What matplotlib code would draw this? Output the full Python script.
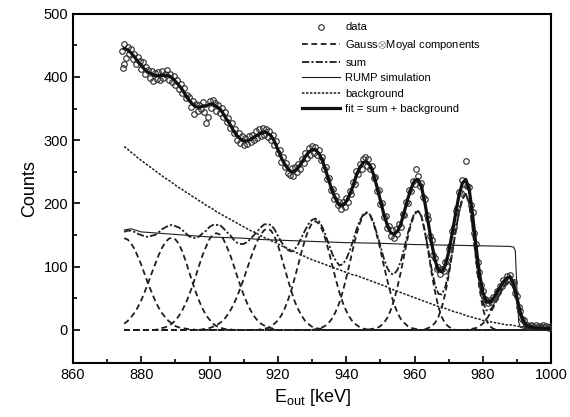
import numpy as np
import matplotlib.pyplot as plt

plt.rcParams['font.family'] = ['Liberation Sans', 'DejaVu Sans']
plt.rcParams['mathtext.fontset'] = 'custom'
plt.rcParams['mathtext.rm'] = 'Liberation Sans'
plt.rcParams['mathtext.it'] = 'Liberation Sans:italic'

# fitted curves are given on a 1 keV grid
energy = np.arange(875, 1001)

# background, 875 ... 1000 keV
background = [290, 286, 281, 277, 272, 268, 264, 260, 256, 252,
              248, 244, 240, 237, 233, 229, 225, 222, 218, 215,
              211, 208, 204, 201, 197, 194, 191, 187, 184, 181,
              178, 175, 172, 169, 166, 163, 160, 157, 155, 152,
              149, 146, 144, 141, 139, 136, 133, 131, 128, 126,
              123, 121, 118, 116, 113, 111, 109, 107, 105, 103,
              101, 99, 97, 95, 93, 91, 89, 87, 86, 84,
              82, 80, 78, 76, 74, 72, 70, 68, 65, 63,
              61, 59, 57, 55, 53, 51, 49, 47, 45, 43,
              41, 39, 37, 36, 34, 32, 30, 28, 27, 25,
              23, 21, 20, 18, 17, 15, 14, 13, 12, 11,
              10, 9, 8, 8, 7, 6, 5, 5, 4, 4,
              3, 3, 3, 2, 2, 2]

# Gauss (x) Moyal components: first energy of each and its values (zero elsewhere)
comp_start = [875, 875, 885, 898, 915, 931, 947, 963, 976]
comp_875 = [145, 143, 137, 128, 116, 103, 88, 73, 60, 47, 36, 27, 20, 14, 10, 6, 4, 3, 2, 1, 1]
comp_889 = [10, 14, 20, 27, 36, 47, 60, 74, 89, 103, 117, 129, 138, 144, 146, 143, 136, 124,
            109, 92, 75, 59, 45, 33, 23, 16, 10, 6, 4, 2, 1, 1]
comp_902 = [1, 3, 4, 7, 10, 15, 22, 31, 42, 55, 70, 86, 103, 119, 132, 144, 151, 153, 151, 144,
            132, 119, 103, 86, 70, 55, 42, 31, 22, 15, 10, 7, 4, 3, 1]
comp_917 = [1, 2, 3, 5, 7, 11, 15, 22, 30, 40, 52, 66, 81, 97, 113, 128, 141, 151, 158, 160,
            157, 148, 134, 116, 97, 78, 60, 44, 32, 22, 14, 9, 5, 3, 2, 1]
comp_931 = [1, 2, 3, 6, 10, 15, 23, 34, 48, 64, 84, 104, 125, 144, 159, 169, 172, 168, 158, 142,
            122, 100, 79, 59, 43, 30, 20, 12, 8, 4, 2, 1]
comp_946 = [1, 2, 4, 7, 12, 19, 30, 43, 61, 82, 105, 129, 151, 169, 181, 185, 181, 168, 149, 127,
            102, 79, 58, 41, 27, 17, 11, 6, 3, 2, 1]
comp_961 = [1, 2, 3, 6, 11, 19, 31, 47, 68, 92, 119, 146, 168, 183, 188, 180, 156, 124, 90, 60,
            36, 20, 10, 5, 2]
comp_975 = [1, 3, 6, 11, 21, 36, 58, 86, 120, 155, 186, 207, 215, 200, 160, 111, 66, 34, 15, 6, 2, 1]
comp_988 = [1, 2, 3, 6, 10, 16, 25, 35, 46, 57, 67, 74, 76, 66, 44, 22, 8, 2, 1]
comp_values = [comp_875, comp_889, comp_902, comp_917, comp_931, comp_946, comp_961, comp_975, comp_988]

# RUMP simulation
rump_e = [875, 877, 880, 885, 890, 895, 900, 905, 910, 915, 920, 930, 940, 950, 960, 970, 980,
          988, 989, 989.5, 990, 990.5, 991, 993, 1000]
rump_counts = [158, 160, 155, 153, 151, 149, 147, 146, 145, 143, 142, 140, 138, 137, 135, 134, 133,
               132, 131, 125, 60, 12, 4, 1, 0]

# measured spectrum, 0.5 keV channels starting at 874.5 keV
data_counts = [441, 452, 430, 447, 436, 444, 428, 437, 421, 431, 426, 412, 423, 405, 416, 411,
               398, 409, 394, 406, 397, 408, 396, 410, 399, 404, 411, 395, 405, 392, 401, 387,
               395, 381, 389, 374, 382, 366, 372, 369, 353, 362, 341, 358, 347, 356, 349, 360,
               345, 328, 336, 362, 351, 364, 359, 347, 356, 343, 351, 336, 344, 329, 335, 319,
               327, 311, 318, 301, 311, 296, 306, 293, 304, 294, 307, 297, 309, 300, 314, 303,
               317, 306, 319, 309, 318, 305, 315, 301, 309, 292, 298, 280, 285, 266, 273, 257,
               264, 248, 245, 256, 244, 257, 249, 263, 255, 271, 264, 280, 272, 287, 277, 291,
               280, 290, 276, 285, 268, 273, 255, 258, 239, 241, 221, 223, 207, 211, 197, 203,
               191, 202, 194, 209, 203, 220, 215, 234, 231, 251, 246, 263, 255, 271, 273, 260,
               270, 254, 259, 240, 242, 220, 222, 199, 200, 178, 180, 161, 165, 149, 158, 146,
               159, 151, 167, 163, 183, 182, 202, 201, 222, 219, 236, 231, 255, 243, 228, 232,
               210, 207, 181, 175, 149, 142, 119, 114, 97, 99, 88, 96, 93, 107, 109, 128,
               133, 157, 163, 188, 193, 218, 217, 237, 230, 267, 228, 226, 198, 186, 153, 136,
               107, 92, 71, 62, 49, 48, 42, 47, 44, 52, 51, 61, 60, 70, 69, 79,
               76, 85, 80, 87, 76, 76, 59, 53, 36, 30, 17, 15, 8, 8, 4, 7,
               6, 5, 7, 4, 6, 5, 7, 4, 6, 5, 3, 6]
extra_e = [874.7, 875.0]
extra_counts = [415, 421]

# build full component curves, their sum and the total fit
components = []
for start, vals in zip(comp_start, comp_values):
    c = np.zeros(len(energy))
    i0 = start - energy[0]
    c[i0:i0 + len(vals)] = vals
    components.append(c)
comp_sum = np.sum(components, axis=0)
fit = comp_sum + np.array(background)

data_e = 874.5 + 0.5 * np.arange(len(data_counts))

fig = plt.figure(figsize=(5.7, 4.17), dpi=100)
ax = fig.add_axes([0.128, 0.13, 0.839, 0.837])

ink = '#1e1e1e'
ax.plot(np.concatenate([data_e, extra_e]), np.concatenate([data_counts, extra_counts]),
        'o', ms=4.0, mfc='none', mec='#333333', mew=0.85, label='data', zorder=3)
for i, c in enumerate(components):
    ax.plot(energy, c, color=ink, lw=1.3, dashes=(3.2, 2.0),
            label='Gauss$\\otimes$Moyal components' if i == 0 else None)
ax.plot(energy, comp_sum, color=ink, lw=1.3, dashes=(4, 1.2, 1.2, 1.2), label='sum')
ax.plot(rump_e, rump_counts, color=ink, lw=0.8, label='RUMP simulation')
ax.plot(energy, background, color=ink, lw=1.1, dashes=(1.6, 1.0), label='background')
ax.plot(energy, fit, color='#111111', lw=2.3, label='fit = sum + background', zorder=4)

ax.set_xlim(860, 1000)
ax.set_ylim(-52, 500)
ax.set_xticks(np.arange(860, 1001, 20))
ax.set_xticks(np.arange(860, 1001, 10), minor=True)
ax.set_yticks(np.arange(0, 501, 100))
ax.set_yticks(np.arange(0, 501, 50), minor=True)
ax.tick_params(which='both', direction='in', width=1.2, labelsize=10.5)
ax.tick_params(which='major', length=5)
ax.tick_params(which='minor', length=3)
for s in ax.spines.values():
    s.set_linewidth(1.5)

ax.set_xlabel('E$_{\\mathrm{out}}$ [keV]', fontsize=13)
ax.set_ylabel('Counts', fontsize=13)

ax.legend(loc='upper left', bbox_to_anchor=(0.479, 0.975), frameon=False, fontsize=8,
          handlelength=3.4, handletextpad=0.5, labelspacing=0.5, borderaxespad=0, borderpad=0)

plt.savefig('out.png', dpi=100)
